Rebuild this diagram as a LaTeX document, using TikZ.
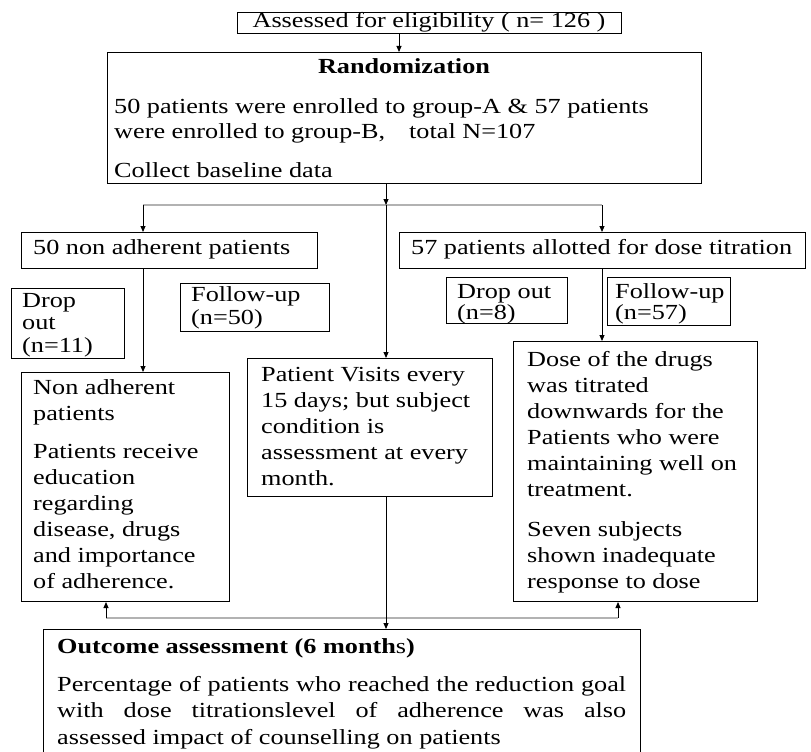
\documentclass[tikz,border=0pt]{standalone}
\usepackage{fontspec}
\setmainfont{Liberation Serif}[FakeStretch=1.22]
\usetikzlibrary{arrows.meta}
\begin{document}
\begin{tikzpicture}[x=1pt,y=-1pt,
  box/.style={draw=black, line width=1pt, anchor=north west, inner sep=0pt},
  txt/.style={anchor=base west, inner sep=0pt, font=\fontsize{21.5}{26}\selectfont},
  arr/.style={draw=black, line width=0.9pt, -{Triangle[length=6pt,width=5pt]}},
  grayln/.style={line width=1.8pt, draw=black!30},
]
\useasboundingbox[fill=white] (0,0) rectangle (811,752);

% boxes
\node[box, minimum width=384pt, minimum height=21pt] (elig) at (237,12) {};
\node[box, minimum width=594pt, minimum height=131pt] (rand) at (107,52) {};
\node[box, minimum width=296pt, minimum height=36pt] (left) at (21,232) {};
\node[box, minimum width=406pt, minimum height=36pt] (right) at (399,232) {};
\node[box, minimum width=113pt, minimum height=70pt] (drop1) at (11,288) {};
\node[box, minimum width=149pt, minimum height=48pt] (fu1) at (180,283) {};
\node[box, minimum width=121pt, minimum height=46pt] (drop2) at (446,277) {};
\node[box, minimum width=123pt, minimum height=48pt] (fu2) at (607,277) {};
\node[box, minimum width=208pt, minimum height=229pt] (nonadh) at (21,372) {};
\node[box, minimum width=245pt, minimum height=138pt] (visits) at (247,358) {};
\node[box, minimum width=244pt, minimum height=260pt] (dose) at (513,341) {};
\node[box, minimum width=597pt, minimum height=150pt] (outcome) at (43,629) {};

% texts
\node[txt, anchor=base] (elig-t) at (429,28) {Assessed for eligibility ( n= 126 )};
\node[txt, anchor=base] (rand-title) at (404,74) {\bfseries Randomization};
\node[txt] (rand-t) at (114,113) {\parbox[t]{580pt}{\baselineskip=25pt
  50 patients were enrolled to group-A \& 57 patients\\
  were enrolled to group-B,\hspace{24pt}total N=107\\[14pt]
  Collect baseline data}};
\node[txt] (left-t) at (33,254) {50 non adherent patients};
\node[txt] (right-t) at (411,254) {57 patients allotted for dose titration};
\node[txt] (drop1-t) at (22,307) {\parbox[t]{100pt}{\baselineskip=22.5pt Drop\\out\\(n=11)}};
\node[txt] (fu1-t) at (191,301) {\parbox[t]{130pt}{\baselineskip=23pt Follow-up\\(n=50)}};
\node[txt] (drop2-t) at (457,298) {\parbox[t]{110pt}{\baselineskip=21pt Drop out\\(n=8)}};
\node[txt] (fu2-t) at (615,298) {\parbox[t]{110pt}{\baselineskip=21pt Follow-up\\(n=57)}};
\node[txt] (nonadh-t) at (33,394) {\parbox[t]{190pt}{\baselineskip=26pt
  Non adherent\\patients\\[12pt]
  Patients receive\\education\\regarding\\disease, drugs\\and importance\\of adherence.}};
\node[txt] (visits-t) at (261,381) {\parbox[t]{230pt}{\baselineskip=26pt
  Patient Visits every\\15 days; but subject\\condition is\\assessment at every\\month.}};
\node[txt] (dose-t) at (527,366) {\parbox[t]{230pt}{\baselineskip=26pt
  Dose of the drugs\\was titrated\\downwards for the\\Patients who were\\maintaining well on\\treatment.\\[14pt]
  Seven subjects\\shown inadequate\\response to dose}};
\node[txt] (outcome-title) at (57,653) {{\bfseries Outcome assessment (6 month}s{\bfseries )}};
\node[txt] (outcome-t) at (57,691) {\parbox[t]{580pt}{\baselineskip=26.5pt
  \makebox[569pt][s]{Percentage of patients who reached the reduction goal}\\
  \makebox[569pt][s]{with dose titrationslevel of adherence was also}\\
  assessed impact of counselling on patients}};

% junction coordinates
\coordinate (ea) at (399,0);
\coordinate (bj) at (386,205);
\coordinate (bl) at (143,205);
\coordinate (br) at (602,205);
\coordinate (oj) at (386,618);
\coordinate (ol) at (106,618);
\coordinate (or) at (618,618);

% connectors
\draw[arr] (elig.south -| ea) -- (rand.north -| ea);
\draw[grayln] (bl) -- (br);
\draw[arr] (rand.south -| bj) -- (bj);
\draw[arr] (bl) -- (left.north -| bl);
\draw[arr] (br) -- (right.north -| br);
\draw[arr] (bj) -- (visits.north -| bj);
\draw[arr] (left.south -| bl) -- (nonadh.north -| bl);
\draw[arr] (right.south -| br) -- (dose.north -| br);
\draw[grayln] (ol) -- (or);
\draw[arr] (visits.south -| oj) -- (outcome.north -| oj);
\draw[arr] (ol) -- (nonadh.south -| ol);
\draw[arr] (or) -- (dose.south -| or);
\end{tikzpicture}
\end{document}
